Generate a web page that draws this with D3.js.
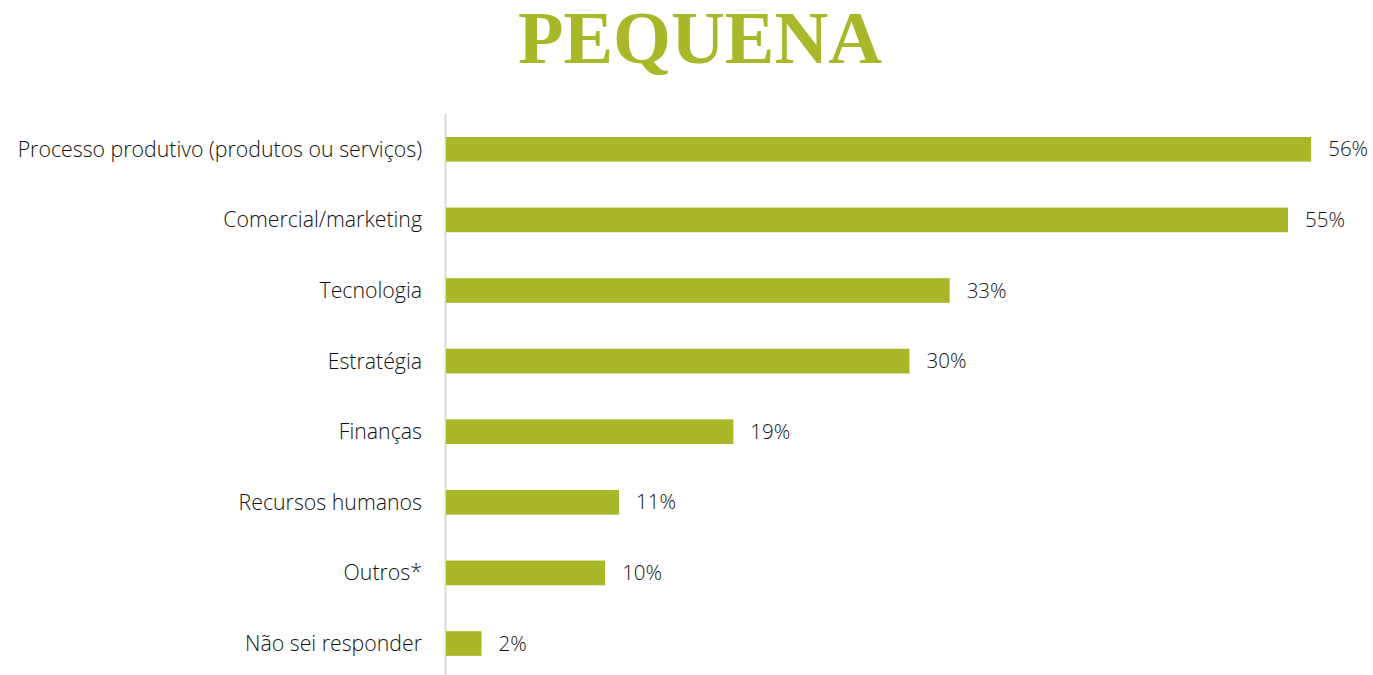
<!DOCTYPE html>
<html>
<head>
<meta charset="utf-8">
<script src="https://cdn.jsdelivr.net/npm/d3@7"></script>
<style>
  body { margin: 0; background: #fff; }
  svg text { font-family: "Open Sans", sans-serif; }
</style>
</head>
<body>
<div id="chart"></div>
<script>
    var categories = ["Processo produtivo (produtos ou serviços)","Comercial/marketing","Tecnologia","Estratégia","Finanças","Recursos humanos","Outros*","Não sei responder"]
    var values = [56, 54.5, 32.6, 30, 18.6, 11.2, 10.3, 2.3]
    var valueLabels = ["56%","55%","33%","30%","19%","11%","10%","2%"]
    var titleText = "PEQUENA"

    var green = "#a8b828"
    var width = 1373, height = 675

    var svg = d3.select("#chart").append("svg").attr("width",width).attr("height",height)

    svg.append("text").text(titleText)
        .attr("x",700).attr("y",63)
        .attr("text-anchor","middle")
        .style("font-family","'Liberation Serif', serif")
        .style("font-weight","bold")
        .style("font-size","74.5px")
        .attr("fill",green)

    var x = d3.scaleLinear().domain([0,60]).range([446,1373])
    var y = d3.scaleBand().domain(categories).range([114,678.8]).paddingInner(0.65).paddingOuter(0.325)

    // vertical axis line only
    svg.append("line")
        .attr("x1",x(0)-0.5).attr("x2",x(0)-0.5)
        .attr("y1",y.range()[0]).attr("y2",y.range()[1])
        .attr("stroke","#d9d9d9").attr("stroke-width",2)

    svg.selectAll("rect.bar").data(values).enter().append("rect")
        .attr("class","bar")
        .attr("x",x(0))
        .attr("y",function(d,i){return y(categories[i])})
        .attr("width",function(d){return x(d)-x(0)})
        .attr("height",y.bandwidth())
        .attr("fill",green)

    svg.selectAll("text.cat").data(categories).enter().append("text")
        .attr("class","cat")
        .attr("x",422)
        .attr("y",function(d){return y(d)+y.bandwidth()/2})
        .attr("dy","0.35em")
        .attr("text-anchor","end")
        .style("font-size","21.3px")
        .style("font-weight","300")
        .attr("fill","#111")
        .text(function(d){return d})

    svg.selectAll("text.val").data(values).enter().append("text")
        .attr("class","val")
        .attr("x",function(d){return x(d)+17})
        .attr("y",function(d,i){return y(categories[i])+y.bandwidth()/2})
        .attr("dy","0.35em")
        .style("font-size","20.5px")
        .style("font-weight","300")
        .attr("fill","#111")
        .text(function(d,i){return valueLabels[i]})
</script>
</body>
</html>
